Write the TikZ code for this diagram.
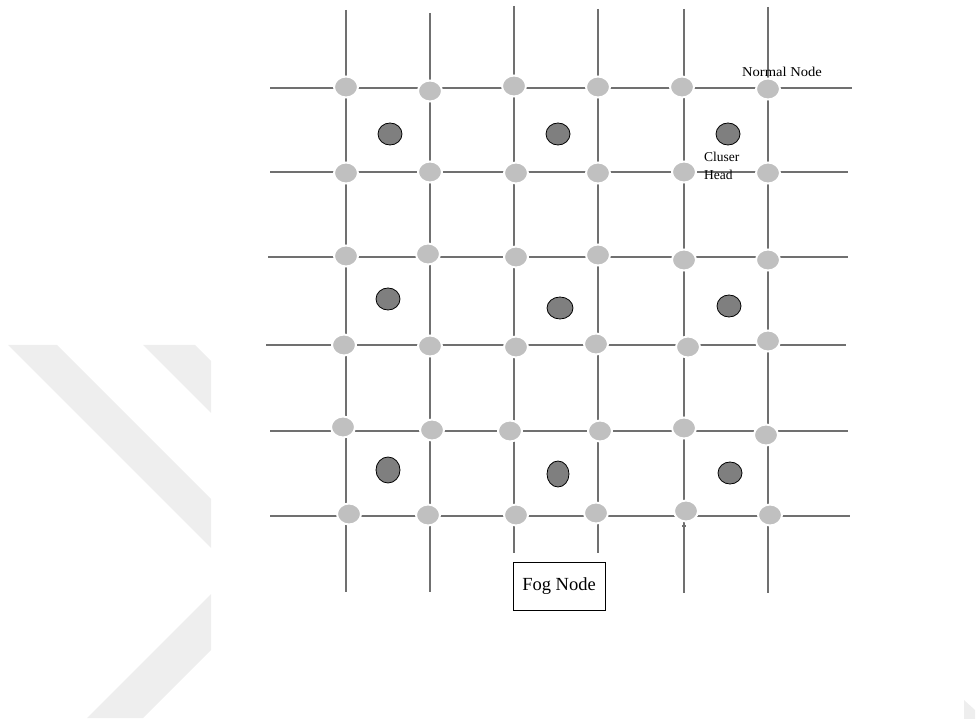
\documentclass[tikz,border=0pt]{standalone}
\usepackage{fontspec}
\setmainfont{Liberation Serif}
\usetikzlibrary{shapes.geometric}
\definecolor{gridc}{RGB}{112,112,112}
\definecolor{normc}{RGB}{192,192,192}
\definecolor{headc}{RGB}{127,127,127}
\definecolor{wmark}{RGB}{238,238,238}
\tikzset{
  gridline/.style={draw=gridc, line width=1.3pt},
  normal/.style={ellipse, fill=normc, draw=white, line width=2pt, minimum width=24pt, minimum height=21pt, inner sep=0pt},
  head/.style={ellipse, fill=headc, draw=black, line width=0.8pt, minimum width=24pt, minimum height=22pt, inner sep=0pt},
  lbl/.style={font=\fontsize{13.5}{18}\selectfont, inner sep=0pt, align=left},
  fogbox/.style={draw=black, line width=1pt, minimum width=92pt, minimum height=48pt, font=\fontsize{18.5}{22}\selectfont}
}
\begin{document}
\begin{tikzpicture}[x=1pt,y=-1pt]
\useasboundingbox (0,0) rectangle (980,719);
% watermark
\fill[wmark] (8,345) -- (57,345) -- (211,499) -- (211,548) -- cycle;
\fill[wmark] (143,345) -- (195,345) -- (211,361) -- (211,413) -- cycle;
\fill[wmark] (87,718) -- (211,594) -- (211,650) -- (143,718) -- cycle;
\fill[wmark] (964,700) -- (975,710) -- (975,719) -- (964,719) -- cycle;
% vertical grid lines
\draw[gridline] (346,10) -- (346,592);
\draw[gridline] (430,13) -- (430,592);
\draw[gridline] (514,6) -- (514,553);
\draw[gridline] (598,9) -- (598,553);
\draw[gridline] (684,9) -- (684,593);
\draw[gridline] (768,7) -- (768,593);
% horizontal grid lines
\draw[gridline] (270,88) -- (852,88);
\draw[gridline] (270,172) -- (848,172);
\draw[gridline] (268,257) -- (848,257);
\draw[gridline] (266,345) -- (846,345);
\draw[gridline] (270,431) -- (848,431);
\draw[gridline] (270,516) -- (850,516);
% small ticks
\draw[gridline] (335,82) -- (335,88);
\draw[gridline] (682,526) -- (686,526);
% normal nodes
\node[normal] (n11) at (346,87) {};
\node[normal] (n12) at (430,91) {};
\node[normal] (n13) at (514,86) {};
\node[normal] (n14) at (598,87) {};
\node[normal] (n15) at (682,87) {};
\node[normal] (n16) at (768,89) {};
\node[normal] (n21) at (346,173) {};
\node[normal] (n22) at (430,172) {};
\node[normal] (n23) at (516,173) {};
\node[normal] (n24) at (598,173) {};
\node[normal] (n25) at (684,172) {};
\node[normal] (n26) at (768,173) {};
\node[normal] (n31) at (346,256) {};
\node[normal] (n32) at (428,254) {};
\node[normal] (n33) at (516,257) {};
\node[normal] (n34) at (598,255) {};
\node[normal] (n35) at (684,260) {};
\node[normal] (n36) at (768,260) {};
\node[normal] (n41) at (344,345) {};
\node[normal] (n42) at (430,346) {};
\node[normal] (n43) at (516,347) {};
\node[normal] (n44) at (596,344) {};
\node[normal] (n45) at (688,347) {};
\node[normal] (n46) at (768,341) {};
\node[normal] (n51) at (343,427) {};
\node[normal] (n52) at (432,430) {};
\node[normal] (n53) at (510,431) {};
\node[normal] (n54) at (600,431) {};
\node[normal] (n55) at (684,428) {};
\node[normal] (n56) at (766,435) {};
\node[normal] (n61) at (349,514) {};
\node[normal] (n62) at (428,515) {};
\node[normal] (n63) at (516,515) {};
\node[normal] (n64) at (596,513) {};
\node[normal] (n65) at (686,511) {};
\node[normal] (n66) at (770,515) {};
% cluster heads
\node[head] (h1) at (390,134) {};
\node[head] (h2) at (558,134) {};
\node[head] (h3) at (728,134) {};
\node[head] (h4) at (388,299) {};
\node[head, minimum width=26pt] (h5) at (560,308) {};
\node[head] (h6) at (729,306) {};
\node[head, minimum height=26pt] (h7) at (388,470) {};
\node[head, minimum width=22pt, minimum height=26pt] (h8) at (558,474) {};
\node[head] (h9) at (730,473) {};
% labels
\node[lbl, font=\fontsize{13.5}{18}\selectfont] (lnormal) at (782,72) {\scalebox{1.08}[1]{Normal Node}};
\node[lbl, anchor=north west] (lhead) at (704,152) {Cluser\\Head};
\node[fogbox] (fog) at (559,586) {Fog Node};
\end{tikzpicture}
\end{document}
